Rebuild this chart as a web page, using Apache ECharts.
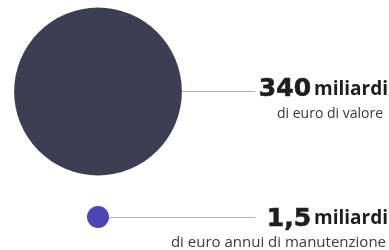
<!DOCTYPE html>
<html>
<head>
<meta charset="utf-8">
<script src="https://cdn.jsdelivr.net/npm/echarts@6/dist/echarts.min.js"></script>
<style>
  html, body { margin: 0; padding: 0; background: #fff; }
  #chart { width: 389px; height: 250px; }
</style>
</head>
<body>
<div id="chart"></div>
<script>
// values in miliardi di euro
const categories = ["valore", "manutenzione"];
const values = [340, 1.5];
const valueLabels = ["340", "1,5"];
const unitLabels = ["miliardi", "miliardi"];
const subLabels = ["di euro di valore", "di euro annui di manutenzione"];
const colors = ["#3d3e53", "#4b46b6"];

const centerX = 98;
const lineEndX = 255;
const labelDy = [9, 12];
const subStyle = ["c", "d"];

function sizeOf(v) {
  return Math.max(22, Math.sqrt(v) * 9.1);
}

const chart = echarts.init(document.getElementById("chart"));

chart.setOption({
  animation: false,
  grid: { left: 0, right: 0, top: 91.5, bottom: 33 },
  xAxis: { type: "value", min: 0, max: 389, show: false },
  yAxis: {
    type: "category",
    data: categories,
    boundaryGap: false,
    inverse: true,
    show: false
  },
  series: [{
    type: "scatter",
    data: categories.map((c, i) => ({
      value: [centerX, c, values[i]],
      symbolSize: sizeOf(values[i]),
      itemStyle: { color: colors[i], opacity: 1 },
      label: {
        formatter: "{a|" + valueLabels[i] + "}{b|" + unitLabels[i] + "}\n{" + subStyle[i] + "|" + subLabels[i] + "}"
      }
    })),
    label: {
      show: true,
      rich: {
        a: {
          fontFamily: "DejaVu Sans", fontWeight: "bold", fontSize: 25, color: "#1e1e1e",
          textBorderColor: "#1e1e1e", textBorderWidth: 0.6, lineHeight: 28, align: "right"
        },
        b: { fontFamily: "Open Sans", fontWeight: "bold", fontSize: 19, color: "#1e1e1e", lineHeight: 28, align: "right", padding: [0, 0, 0, 3] },
        c: { fontFamily: "Open Sans", fontSize: 14, color: "#3a3a3a", lineHeight: 22, align: "right", padding: [0, 5, 0, 0] },
        d: { fontFamily: "Open Sans", fontSize: 15, color: "#3a3a3a", lineHeight: 20, align: "right", padding: [0, 2, 0, 0] }
      }
    },
    labelLayout: function (params) {
      const cy = params.rect.y + params.rect.height / 2;
      return {
        x: 388,
        y: cy + labelDy[params.dataIndex],
        align: "right",
        verticalAlign: "middle"
      };
    },
    markLine: {
      silent: true,
      symbol: ["none", "none"],
      label: { show: false },
      lineStyle: { color: "#b0b0b0", width: 1, type: "solid" },
      data: categories.map((c, i) => [
        { coord: [centerX + sizeOf(values[i]) / 2, c] },
        { coord: [lineEndX, c] }
      ])
    }
  }]
});

window.addEventListener("resize", () => chart.resize());
</script>
</body>
</html>
